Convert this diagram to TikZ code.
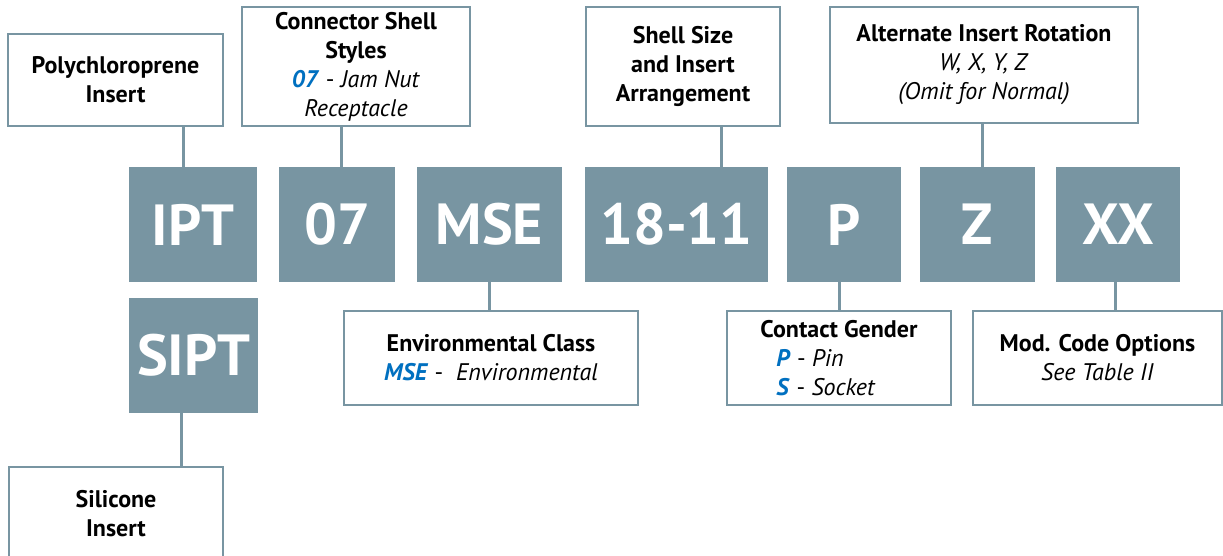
\documentclass[tikz,border=0pt]{standalone}
\usepackage{fontspec}
\setmainfont{PT Sans}
\definecolor{tilec}{RGB}{120,149,162}
\definecolor{codeblue}{RGB}{0,112,192}
\newcommand{\code}[1]{\textcolor{codeblue}{\textbf{\textit{#1}}}}
\begin{document}
\begin{tikzpicture}[x=1pt, y=-1pt,
  tile/.style={fill=tilec, text=white, font=\fontsize{58}{58}\selectfont\bfseries, minimum height=115, inner sep=0},
  lbl/.style={draw=tilec, line width=2.5pt, fill=white, align=center, font=\fontsize{24}{29}\selectfont, inner sep=0},
  link/.style={draw=tilec, line width=3pt}]
\useasboundingbox (0,0) rectangle (1223,556);
% code tiles
\node[tile, minimum width=128] (ipt) at (193,224.5) {IPT};
\node[tile, minimum width=116] (shell) at (337,224.5) {07};
\node[tile, minimum width=145] (mse) at (489.5,224.5) {MSE};
\node[tile, minimum width=183] (size) at (676.5,224.5) {18-11};
\node[tile, minimum width=114] (pin) at (844,224.5) {P};
\node[tile, minimum width=115] (rot) at (977.5,224.5) {Z};
\node[tile, minimum width=124] (mod) at (1118,224.5) {XX};
\node[tile, minimum width=129] (sipt) at (193.5,355.5) {SIPT};
% upper labels
\node[lbl, minimum width=215, minimum height=92] (polyL) at (115.5,80) {\textbf{Polychloroprene}\\\textbf{Insert}};
\node[lbl, minimum width=228, minimum height=119] (shellL) at (356,66.5) {\textbf{Connector Shell}\\\textbf{Styles}\\\code{07} - \textit{Jam Nut}\\\textit{Receptacle}};
\node[lbl, minimum width=194, minimum height=119] (sizeL) at (683,66.5) {\textbf{Shell Size}\\\textbf{and Insert}\\\textbf{Arrangement}};
\node[lbl, minimum width=308, minimum height=116] (rotL) at (984,65) {\textbf{Alternate Insert Rotation}\\\textit{W, X, Y, Z}\\\textit{(Omit for Normal)}};
% lower labels
\node[lbl, minimum width=294, minimum height=94] (mseL) at (491,358) {\textbf{Environmental Class}\\\code{MSE} - \ \textit{Environmental}};
\node[lbl, minimum width=224, minimum height=94, align=left] (pinL) at (839,358) {\textbf{Contact Gender}\\\hspace*{16pt}\code{P} - \textit{Pin}\\\hspace*{16pt}\code{S} - \textit{Socket}};
\node[lbl, minimum width=249, minimum height=94] (modL) at (1097.5,358) {\textbf{Mod. Code Options}\\\textit{See Table II}};
\node[lbl, minimum width=214, minimum height=94] (siptL) at (116,514) {\textbf{Silicone}\\\textbf{Insert}};
% connectors
\draw[link] ([xshift=-10]ipt.north) -- ([xshift=-10]ipt.north |- polyL.south);
\draw[link] ([xshift=4]shell.north) -- ([xshift=4]shell.north |- shellL.south);
\draw[link] ([xshift=44.5]size.north) -- ([xshift=44.5]size.north |- sizeL.south);
\draw[link] ([xshift=4.5]rot.north) -- ([xshift=4.5]rot.north |- rotL.south);
\draw[link] (mse.south) -- (mse.south |- mseL.north);
\draw[link] (pinL.north) -- (pinL.north |- pin.south);
\draw[link] ([xshift=-3]mod.south) -- ([xshift=-3]mod.south |- modL.north);
\draw[link] ([xshift=-12.5]sipt.south) -- ([xshift=-12.5]sipt.south |- siptL.north);
\end{tikzpicture}
\end{document}
